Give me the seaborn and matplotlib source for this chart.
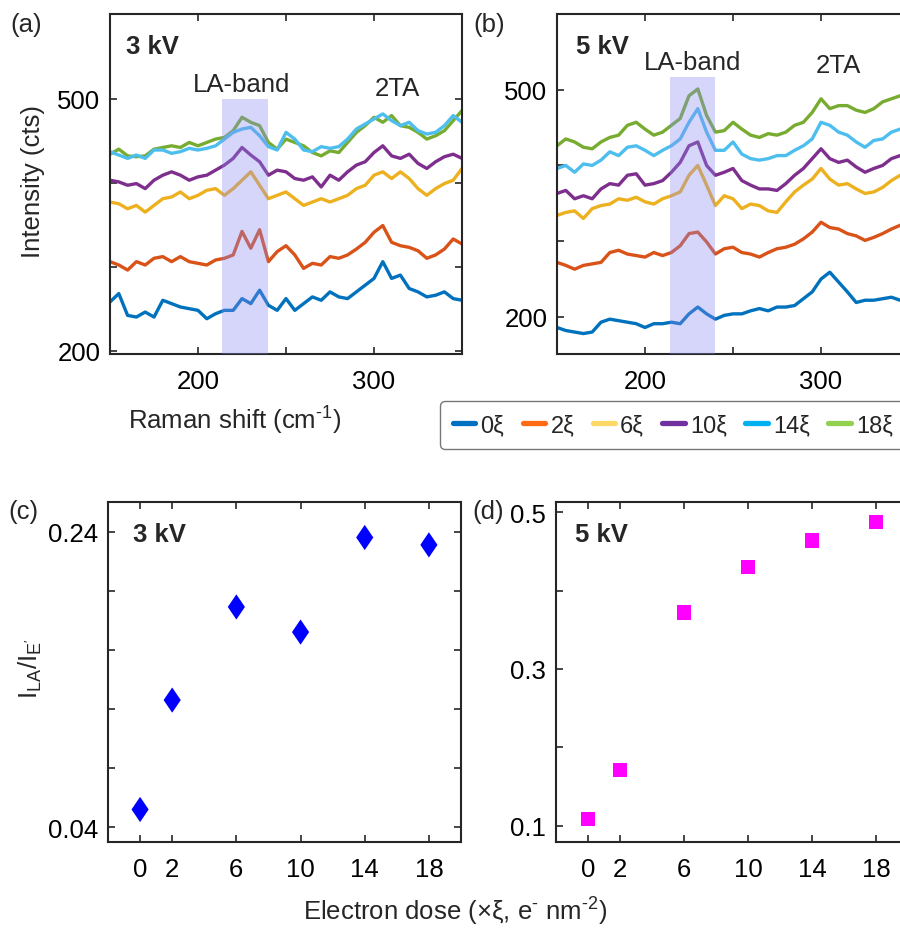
import numpy as np
import pandas as pd
import matplotlib
matplotlib.use("Agg")
import matplotlib.pyplot as plt
from matplotlib.lines import Line2D
from matplotlib.path import Path
from matplotlib import font_manager
import seaborn as sns

# ---------------- data ----------------
RAMAN = [150, 155, 160, 165, 170, 175, 180, 185, 190, 195, 200, 205, 210, 215, 220,
         225, 230, 235, 240, 245, 250, 255, 260, 265, 270, 275, 280, 285, 290, 295,
         300, 305, 310, 315, 320, 325, 330, 335, 340, 345, 350]
DOSES = ["0ξ", "2ξ", "6ξ", "10ξ", "14ξ", "18ξ"]

# panel (a) 3 kV spectra
a_0 = [258, 268, 242, 240, 246, 240, 260, 256, 252, 250, 248, 238, 244, 248, 248, 262, 256, 272,
       254, 248, 262, 248, 256, 264, 260, 270, 264, 262, 270, 278, 286, 306, 286, 290, 274, 270,
       264, 266, 270, 262, 260]
a_2 = [306, 302, 296, 306, 302, 310, 312, 306, 312, 306, 304, 302, 308, 310, 314, 342, 322, 344,
       306, 318, 325, 314, 298, 304, 302, 312, 310, 314, 321, 329, 341, 349, 329, 325, 323, 319,
       310, 314, 321, 333, 327]
a_6 = [377, 375, 369, 373, 365, 373, 381, 383, 389, 381, 385, 391, 393, 385, 393, 403, 413, 397,
       381, 385, 389, 381, 373, 377, 381, 377, 381, 385, 393, 397, 409, 413, 405, 413, 405, 393,
       385, 393, 399, 403, 417]
a_10 = [403, 401, 397, 399, 393, 403, 409, 413, 409, 403, 407, 409, 415, 421, 429, 442, 433, 425,
        409, 415, 413, 405, 403, 407, 395, 409, 403, 413, 421, 425, 436, 444, 432, 429, 434, 423,
        417, 425, 431, 434, 429]
a_14 = [437, 433, 429, 433, 429, 439, 439, 435, 437, 441, 439, 441, 444, 452, 460, 464, 466, 456,
        443, 439, 460, 452, 439, 437, 443, 441, 443, 452, 464, 470, 476, 482, 474, 468, 472, 462,
        458, 460, 468, 480, 472]
a_18 = [434, 440, 432, 431, 432, 440, 442, 444, 442, 448, 444, 448, 452, 454, 462, 478, 472, 468,
        448, 440, 452, 448, 444, 436, 432, 438, 436, 448, 460, 468, 478, 472, 480, 468, 466, 460,
        452, 456, 462, 474, 486]

# panel (b) 5 kV spectra
b_0 = [186, 182, 180, 178, 180, 193, 197, 195, 193, 191, 186, 191, 191, 193, 191, 204, 213, 204,
       197, 202, 204, 204, 208, 211, 208, 213, 213, 215, 224, 233, 250, 259, 246, 233, 219, 222,
       222, 224, 226, 222, 222]
b_2 = [272, 268, 263, 268, 270, 272, 285, 288, 283, 281, 279, 285, 281, 285, 294, 310, 312, 299,
       283, 290, 292, 285, 283, 279, 285, 290, 292, 296, 303, 312, 325, 318, 316, 310, 307, 301,
       305, 310, 316, 321, 316]
b_6 = [334, 338, 340, 330, 343, 347, 349, 356, 354, 358, 352, 349, 356, 360, 365, 387, 400, 374,
       347, 360, 356, 343, 349, 347, 340, 338, 352, 365, 374, 382, 396, 382, 374, 376, 369, 363,
       365, 371, 380, 387, 391]
b_10 = [363, 367, 356, 360, 356, 369, 376, 374, 387, 389, 374, 376, 380, 391, 404, 426, 431, 400,
        387, 391, 396, 380, 374, 369, 369, 367, 376, 387, 396, 409, 422, 409, 404, 407, 398, 391,
        396, 400, 409, 413, 418]
b_14 = [396, 400, 391, 402, 400, 407, 418, 413, 424, 426, 420, 413, 420, 426, 435, 457, 475, 444,
        420, 420, 431, 415, 409, 407, 409, 413, 413, 420, 426, 435, 457, 453, 444, 440, 431, 424,
        433, 435, 444, 448, 451]
b_18 = [426, 435, 431, 424, 422, 431, 437, 440, 453, 457, 448, 440, 444, 453, 462, 492, 501, 466,
        444, 446, 457, 448, 440, 437, 442, 440, 444, 453, 457, 470, 488, 475, 479, 479, 473, 470,
        475, 484, 488, 492, 495]

# panels (c), (d): ratio vs dose
DOSE_VALUES = [0, 2, 6, 10, 14, 18]
RATIO_3KV = [0.052, 0.126, 0.189, 0.172, 0.236, 0.231]
RATIO_5KV = [0.108, 0.171, 0.372, 0.430, 0.464, 0.487]

LA_BAND_A = (213.5, 239.5, 500)
LA_BAND_B = (214.0, 240.0, 517)

# ---------------- style ----------------
sns.set_theme(style="ticks")
plt.rcParams["font.family"] = ["Liberation Sans", "DejaVu Sans"]
plt.rcParams["mathtext.fontset"] = "custom"
plt.rcParams["mathtext.rm"] = "Liberation Sans"
plt.rcParams["mathtext.it"] = "Liberation Sans:italic"
plt.rcParams["axes.linewidth"] = 1.5
plt.rcParams["axes.edgecolor"] = "#262626"

try:
    font_manager.findfont("Liberation Sans Narrow", fallback_to_default=False)
    LEG_FONT = ["Liberation Sans Narrow", "Liberation Sans"]
    LEG_FS = 18.5
except Exception:
    LEG_FONT = ["Liberation Sans", "DejaVu Sans"]
    LEG_FS = 17.0

FS = 18.5
LINE_COLORS = ["#0072BD", "#D95319", "#EDB120", "#7E2F8E", "#4DBEEE", "#77AC30"]
LEG_COLORS = ["#0070C0", "#FF6A13", "#FFD966", "#7030A0", "#00B0F0", "#92D050"]
palette = dict(zip(DOSES, LINE_COLORS))
draw_order = ["0ξ", "2ξ", "6ξ", "10ξ", "18ξ", "14ξ"]

W, H = 900, 929
fig = plt.figure(figsize=(W / 100, H / 100), dpi=100)


def px_axes(l, t, r, b):
    return fig.add_axes([l / W, 1 - b / H, (r - l) / W, (b - t) / H])


def style_axes(ax):
    ax.tick_params(direction="in", length=5, width=1.2, colors="#262626",
                   labelcolor="black", labelsize=FS, top=True, right=True, pad=7)
    ax.tick_params(axis="x", pad=11)
    for s in ax.spines.values():
        s.set_visible(True)
        s.set_linewidth(1.5)
        s.set_color("#262626")
    ax.set_xlabel("")
    ax.set_ylabel("")


def spectra_panel(ax, series, band, ylim):
    frames = []
    for d, vals in zip(DOSES, series):
        frames.append(pd.DataFrame({"shift": RAMAN, "intensity": vals, "dose": d}))
    df = pd.concat(frames, ignore_index=True)
    sns.lineplot(data=df, x="shift", y="intensity", hue="dose", hue_order=draw_order,
                 palette=palette, estimator=None, sort=False, legend=False,
                 linewidth=2.4, ax=ax)
    ax.fill_between([band[0], band[1]], ylim[0], band[2], color=(0.55, 0.55, 0.95),
                    alpha=0.35, linewidth=0, zorder=5)
    ax.set_xlim(150, 350)
    ax.set_ylim(*ylim)
    ax.set_xticks([200, 250, 300])
    ax.set_xticklabels(["200", "", "300"])
    ax.set_yticks([200, 300, 400, 500])
    ax.set_yticklabels(["200", "", "", "500"])
    style_axes(ax)


ax_a = px_axes(110, 15, 462, 355)
spectra_panel(ax_a, [a_0, a_2, a_6, a_10, a_14, a_18], LA_BAND_A, (196, 601))
ax_b = px_axes(557, 15, 909, 355)
spectra_panel(ax_b, [b_0, b_2, b_6, b_10, b_14, b_18], LA_BAND_B, (151, 600))

# text annotations in spectra panels
ax_a.text(0.045, 0.905, "3 kV", transform=ax_a.transAxes, fontsize=FS, fontweight="bold",
          ha="left", va="center")
ax_a.text(225, 518, "LA-band", fontsize=FS, ha="center", va="center")
ax_a.text(313, 513, "2TA", fontsize=FS, ha="center", va="center")
ax_b.text(0.055, 0.905, "5 kV", transform=ax_b.transAxes, fontsize=FS, fontweight="bold",
          ha="left", va="center")
ax_b.text(227, 537, "LA-band", fontsize=FS, ha="center", va="center")
ax_b.text(310, 532, "2TA", fontsize=FS, ha="center", va="center")

# ratio panels
diamond = Path([(0, 1), (0.68, 0), (0, -1), (-0.68, 0), (0, 1)],
               [Path.MOVETO, Path.LINETO, Path.LINETO, Path.LINETO, Path.CLOSEPOLY])

ax_c = px_axes(108, 503, 461, 843)
sns.scatterplot(x=DOSE_VALUES, y=RATIO_3KV, marker=diamond, s=330, color="#0000FF",
                edgecolor="none", ax=ax_c, zorder=3)
ax_c.set_xlim(-2, 20)
ax_c.set_ylim(0.03, 0.26)
ax_c.set_xticks(DOSE_VALUES)
ax_c.set_xticklabels([str(v) for v in DOSE_VALUES])
ax_c.set_yticks([0.04, 0.08, 0.12, 0.16, 0.20, 0.24])
ax_c.set_yticklabels(["0.04", "", "", "", "", "0.24"])
style_axes(ax_c)
ax_c.text(0.07, 0.905, "3 kV", transform=ax_c.transAxes, fontsize=FS, fontweight="bold",
          ha="left", va="center")

ax_d = px_axes(556, 503, 908, 843)
sns.scatterplot(x=DOSE_VALUES, y=RATIO_5KV, marker="s", s=105, color="#FF00FF",
                edgecolor="none", ax=ax_d, zorder=3)
ax_d.set_xlim(-2, 20)
ax_d.set_ylim(0.079, 0.513)
ax_d.set_xticks(DOSE_VALUES)
ax_d.set_xticklabels([str(v) for v in DOSE_VALUES])
ax_d.set_yticks([0.1, 0.2, 0.3, 0.4, 0.5])
ax_d.set_yticklabels(["0.1", "", "0.3", "", "0.5"])
style_axes(ax_d)
ax_d.text(0.055, 0.905, "5 kV", transform=ax_d.transAxes, fontsize=FS, fontweight="bold",
          ha="left", va="center")

# figure-level labels
def ftext(x, y, s, **kw):
    fig.text(x / W, 1 - y / H, s, fontsize=FS, **kw)

HY = "\u2010"
ftext(26, 25, "(a)", ha="center", va="center")
ftext(489, 25, "(b)", ha="center", va="center")
ftext(23, 512, "(c)", ha="center", va="center")
ftext(488, 512, "(d)", ha="center", va="center")
ftext(33, 182, "Intensity (cts)", rotation=90, ha="center", va="center")
ftext(235, 421, "Raman shift (cm$^{\\mathregular{" + HY + "1}}$)", ha="center", va="center")
ftext(30, 668, "I$_{\\mathregular{LA}}$/I$_{\\mathregular{E^{\\prime}}}$", rotation=90,
      ha="center", va="center")
ftext(455, 912, "Electron dose (×ξ, e$^{\\mathregular{" + HY + "}}$ nm$^{\\mathregular{" + HY + "2}}$)",
      ha="center", va="center")

# legend (uses its own palette, as in the original)
handles = [Line2D([0], [0], color=c, lw=3.8) for c in LEG_COLORS]
leg = fig.legend(handles, DOSES, ncol=6, loc="upper left",
                 bbox_to_anchor=(440 / W, 1 - 402 / H), borderaxespad=0,
                 frameon=True, fancybox=True, handlelength=0.95, handletextpad=0.22,
                 columnspacing=0.78, borderpad=0.55,
                 prop={"family": LEG_FONT, "size": LEG_FS})
leg.get_frame().set_edgecolor("#555555")
leg.get_frame().set_linewidth(1.0)

fig.savefig("out.png", dpi=100)
